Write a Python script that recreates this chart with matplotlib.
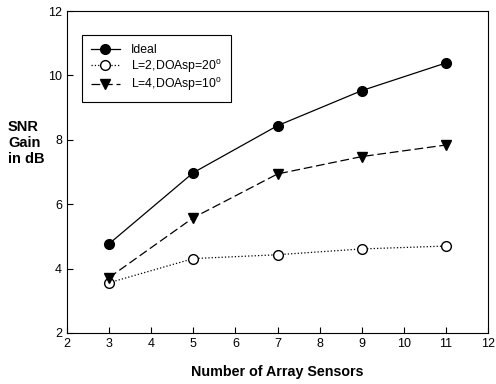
import matplotlib
matplotlib.use("Agg")
import matplotlib.pyplot as plt

plt.rcParams['font.family'] = ['Liberation Sans', 'DejaVu Sans']
plt.rcParams['mathtext.fontset'] = 'custom'
plt.rcParams['mathtext.rm'] = 'Liberation Sans'

sensors = [3, 5, 7, 9, 11]
ideal = [4.77, 6.98, 8.44, 9.53, 10.39]
l2_doa20 = [3.56, 4.31, 4.43, 4.61, 4.70]
l4_doa10 = [3.72, 5.58, 6.94, 7.48, 7.84]

xticks = [2, 3, 4, 5, 6, 7, 8, 9, 10, 11, 12]
yticks = [2, 4, 6, 8, 10, 12]

fig = plt.figure(figsize=(4.96, 3.84), dpi=100)
ax = fig.add_axes([0.135, 0.133, 0.849, 0.838])

ax.plot(sensors, ideal, color='black', linestyle='-', linewidth=0.9,
        marker='o', markersize=7, markerfacecolor='black', label='Ideal')
ax.plot(sensors, l2_doa20, color='black', linestyle=':', linewidth=0.9,
        marker='o', markersize=7, markerfacecolor='white', label=r'L=2,DOAsp=20$^{\mathrm{o}}$')
ax.plot(sensors, l4_doa10, color='black', linestyle=(0, (7, 3)), linewidth=0.9,
        marker='v', markersize=7, markerfacecolor='black', label=r'L=4,DOAsp=10$^{\mathrm{o}}$')

ax.set_xlim(2, 12)
ax.set_ylim(2, 12)
ax.set_xticks(xticks)
ax.set_yticks(yticks)
ax.tick_params(direction='in', length=4, width=0.8, labelsize=9)
for s in ax.spines.values():
    s.set_linewidth(0.8)

ax.set_xlabel('Number of Array Sensors', fontsize=10.3, fontweight='bold', labelpad=11)
fig.text(0.016, 0.628, 'SNR\nGain\nin dB', fontsize=10.5, fontweight='bold',
         ha='left', va='center', linespacing=1.2)

leg = ax.legend(loc='upper left', bbox_to_anchor=(0.036, 0.925), fontsize=8.8,
                frameon=True, fancybox=False, framealpha=1, edgecolor='black',
                handlelength=2.4, handletextpad=0.9, borderpad=0.7,
                labelspacing=0.15, borderaxespad=0)
leg.get_frame().set_linewidth(0.8)

fig.savefig('out.png', dpi=100)
